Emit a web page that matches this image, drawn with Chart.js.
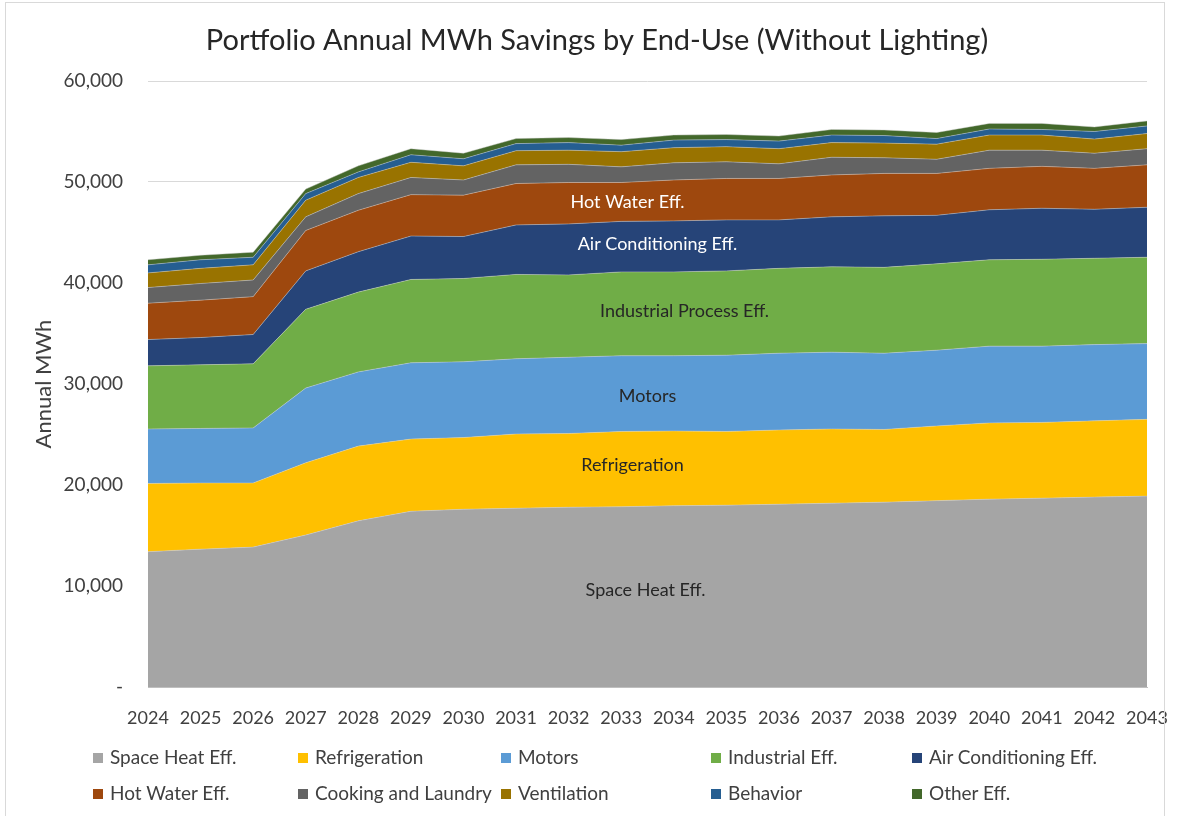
<!DOCTYPE html>
<html>
<head>
<meta charset="utf-8">
<script src="https://cdn.jsdelivr.net/npm/chart.js@4.4.1/dist/chart.umd.min.js"></script>
<style>
  html, body { margin: 0; padding: 0; background: #fff; }
  #wrap { position: relative; width: 1178px; height: 816px; overflow: hidden; font-family: Lato, "Open Sans", sans-serif; }
  #frame { position: absolute; left: 5px; top: 2px; width: 1160px; height: 830px; border: 1px solid #D9D9D9; box-sizing: border-box; pointer-events: none; }
  canvas { position: absolute; left: 0; top: 0; }
  .lg { position: absolute; font-size: 19px; color: #404040; white-space: nowrap; line-height: 22px; }
  .lg i { display: inline-block; width: 10px; height: 10px; margin-right: 7px; vertical-align: 1px; }
</style>
</head>
<body>
<div id="wrap">
  <canvas id="c" width="1178" height="816"></canvas>
  <div id="frame"></div>
  <div id="legend"></div>
</div>
<script>
const years = ['2024','2025','2026','2027','2028','2029','2030','2031','2032','2033','2034','2035','2036','2037','2038','2039','2040','2041','2042','2043'];
const spaceHeat = [13400,13650,13850,15050,16450,17400,17600,17700,17800,17850,17950,18000,18100,18200,18300,18450,18600,18700,18800,18900];
const refrigeration = [6750,6550,6350,7150,7400,7150,7100,7350,7300,7450,7400,7300,7350,7350,7200,7400,7550,7500,7550,7600];
const motors = [5400,5400,5450,7400,7350,7550,7500,7450,7550,7500,7450,7550,7600,7600,7550,7500,7600,7550,7550,7500];
const industrial = [6250,6300,6350,7800,7900,8250,8250,8350,8150,8300,8300,8350,8400,8450,8500,8550,8550,8600,8550,8550];
const airConditioning = [2600,2700,2900,3800,4000,4300,4150,4900,5050,5000,5050,5050,4800,4950,5100,4800,4950,5050,4850,4950];
const hotWater = [3600,3700,3750,4000,4100,4100,4100,4100,4100,3850,4050,4100,4100,4150,4200,4150,4100,4150,4050,4200];
const cookingLaundry = [1550,1650,1650,1350,1650,1700,1500,1850,1800,1550,1700,1650,1450,1750,1550,1400,1800,1600,1500,1600];
const ventilation = [1450,1500,1500,1650,1600,1500,1400,1400,1400,1500,1500,1500,1500,1450,1450,1500,1500,1500,1400,1500];
const behavior = [800,850,750,650,550,750,700,700,750,650,750,700,750,750,750,550,600,550,750,750];
const otherEff = [500,450,500,450,600,600,550,500,500,550,500,500,500,550,550,600,550,600,450,500];

const seriesNames = ['Space Heat Eff.','Refrigeration','Motors','Industrial Eff.','Air Conditioning Eff.','Hot Water Eff.','Cooking and Laundry','Ventilation','Behavior','Other Eff.'];
const seriesData = [spaceHeat, refrigeration, motors, industrial, airConditioning, hotWater, cookingLaundry, ventilation, behavior, otherEff];
const seriesColors = ['#A5A5A5','#FFC000','#5B9BD5','#70AD47','#264478','#9E480E','#636363','#997300','#255E91','#43682B'];
const yTicks = [0,10000,20000,30000,40000,50000,60000];

const titleText = 'Portfolio Annual MWh Savings by End-Use (Without Lighting)';
// in-chart band labels: [text, series index, x position as fraction of plot width, colour]
const bandLabels = [
  ['Hot Water Eff.', 5, 0.48, '#FFFFFF'],
  ['Air Conditioning Eff.', 4, 0.51, '#FFFFFF'],
  ['Industrial Process Eff.', 3, 0.537, '#262626'],
  ['Motors', 2, 0.50, '#262626'],
  ['Refrigeration', 1, 0.485, '#262626'],
  ['Space Heat Eff.', 0, 0.498, '#262626']
];
const bandLabelOffsets = [0, 200, 300, -300, 400, 700];

const datasets = seriesNames.map((n, i) => ({
  label: n,
  data: seriesData[i],
  backgroundColor: seriesColors[i],
  borderColor: 'rgba(210,210,210,0.55)',
  borderWidth: 0.8,
  fill: i === 0 ? 'origin' : '-1',
  pointRadius: 0,
  pointHoverRadius: 0,
  tension: 0
}));

const overlay = {
  id: 'overlay',
  afterDatasetsDraw(chart) {
    const ctx = chart.ctx;
    const a = chart.chartArea;
    const y = chart.scales.y;
    ctx.save();
    ctx.textAlign = 'center';
    ctx.textBaseline = 'middle';
    ctx.font = '18px Lato, "Open Sans", sans-serif';
    bandLabels.forEach(([t, si, fx, col], k) => {
      const xp = a.left + fx * (a.right - a.left);
      const idx = Math.round(fx * (years.length - 1));
      let base = 0;
      for (let j = 0; j < si; j++) base += seriesData[j][idx];
      const mid = base + seriesData[si][idx] / 2 + bandLabelOffsets[k];
      ctx.fillStyle = col;
      ctx.fillText(t, xp, y.getPixelForValue(mid));
    });
    ctx.restore();
  },
  afterDraw(chart) {
    const ctx = chart.ctx;
    ctx.save();
    ctx.textAlign = 'center';
    ctx.textBaseline = 'middle';
    ctx.fillStyle = '#262626';
    ctx.font = '29px Lato, "Open Sans", sans-serif';
    ctx.fillText(titleText, 597, 41);
    ctx.restore();
  }
};

new Chart(document.getElementById('c'), {
  type: 'line',
  data: { labels: years, datasets },
  options: {
    responsive: false,
    animation: false,
    events: [],
    layout: { padding: { top: 81, right: 31, bottom: 79, left: 0 } },
    plugins: { legend: { display: false }, tooltip: { enabled: false } },
    scales: {
      x: {
        offset: false,
        grid: { display: false, drawTicks: true, tickLength: 20 },
        border: { display: true, color: '#BFBFBF', width: 1 },
        ticks: { color: '#404040', font: { family: 'Lato', size: 18 }, padding: 0, maxRotation: 0, autoSkip: false },
        afterFit(s) { s.height = 50; }
      },
      y: {
        stacked: true,
        min: 0, max: 60000,
        afterBuildTicks(s) { s.ticks = yTicks.map(v => ({ value: v })); },
        grid: { color: '#D9D9D9', drawTicks: false },
        border: { display: false },
        ticks: {
          color: '#404040', font: { family: 'Lato', size: 19 }, padding: 25,
          callback: v => v === 0 ? '-' : v.toLocaleString('en-US')
        },
        title: { display: true, text: 'Annual MWh', color: '#404040', font: { family: 'Lato', size: 22 }, padding: { top: 31, bottom: 0 } },
        afterFit(s) { s.width = 148; }
      }
    }
  },
  plugins: [overlay]
});

// HTML legend in a 5-column grid
const legendCols = [93, 298, 501, 711, 912];
const legendRows = [757, 793];
const lg = document.getElementById('legend');
seriesNames.forEach((n, i) => {
  const d = document.createElement('div');
  d.className = 'lg';
  d.style.left = legendCols[i % 5] + 'px';
  d.style.top = (legendRows[Math.floor(i / 5)] - 11) + 'px';
  d.innerHTML = '<i style="background:' + seriesColors[i] + '"></i>' + n;
  lg.appendChild(d);
});
</script>
</body>
</html>
